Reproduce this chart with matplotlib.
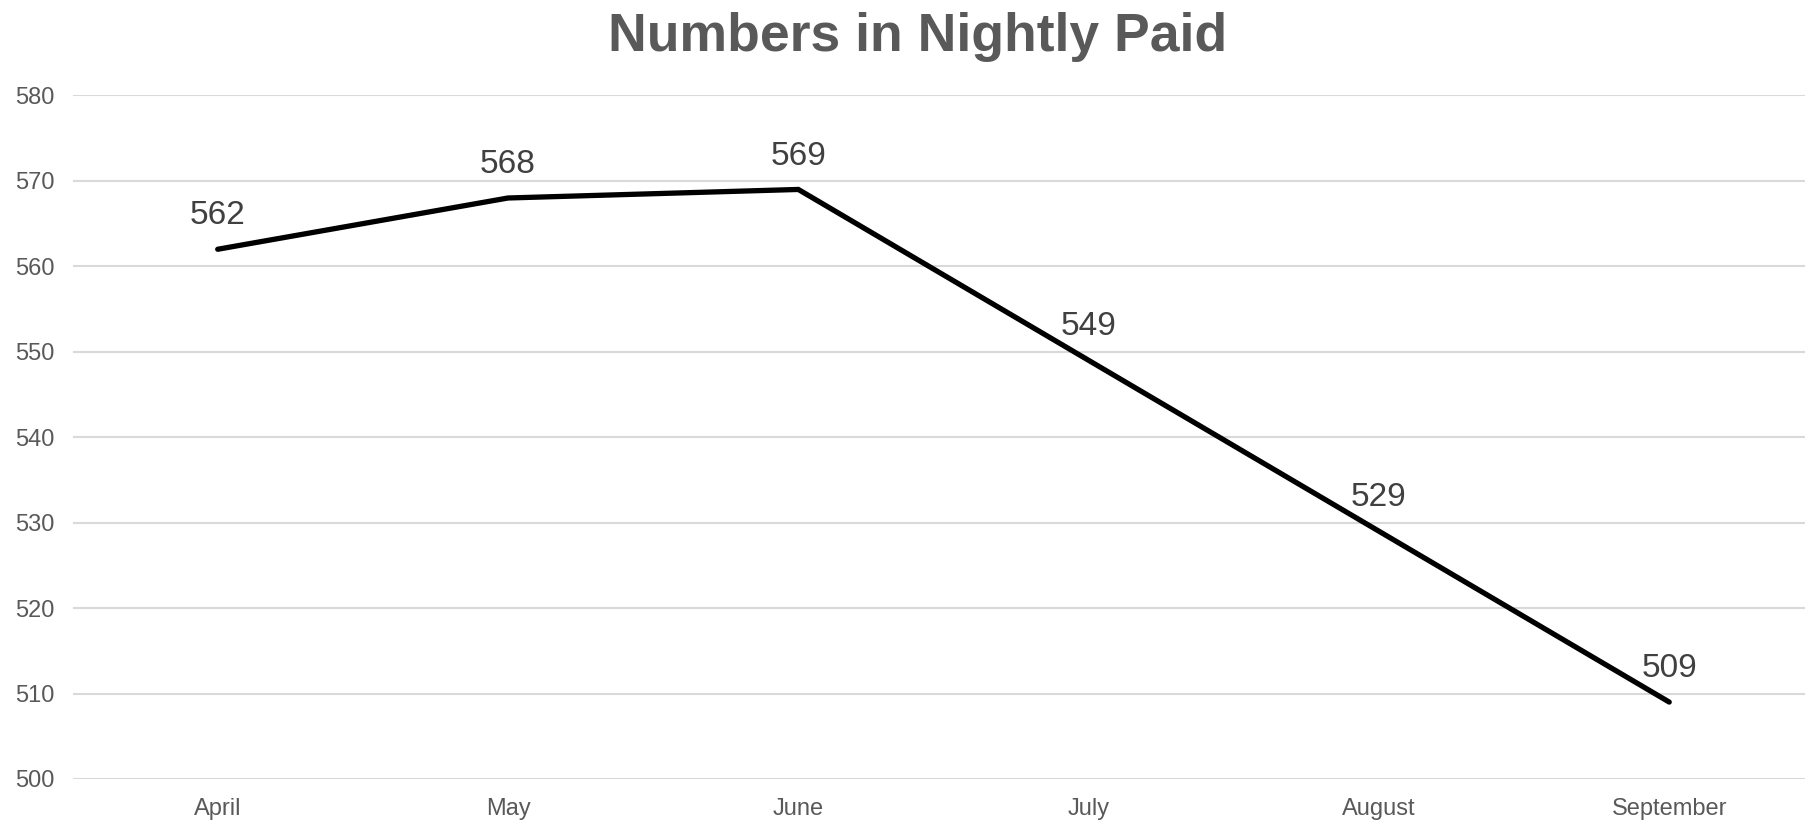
import matplotlib
matplotlib.use("Agg")
from matplotlib import pyplot as plt

months = ["April", "May", "June", "July", "August", "September"]
nightly_paid = [562, 568, 569, 549, 529, 509]
y_ticks = [500, 510, 520, 530, 540, 550, 560, 570, 580]

plt.rcParams['font.family'] = ['Liberation Sans', 'DejaVu Sans']

fig = plt.figure(figsize=(18.05, 8.23), dpi=100)
ax = fig.add_axes([0.0402, 0.0535, 0.965, 0.8305])

x = list(range(len(months)))
ax.plot(x, nightly_paid, color='black', linewidth=3.8, solid_capstyle='round',
        solid_joinstyle='miter', zorder=3)

for xi, v in zip(x, nightly_paid):
    ax.annotate(str(v), (xi, v), xytext=(0, 24), textcoords='offset points',
                ha='center', va='center', fontsize=24, color='#404040')

ax.set_xlim(-0.5, len(months) - 0.5)
ax.set_ylim(500, 580)
ax.set_yticks(y_ticks)
ax.set_xticks(x)
ax.set_xticklabels(months)
ax.yaxis.grid(True, color='#d9d9d9', linewidth=1.5)
ax.set_axisbelow(True)
for s in ax.spines.values():
    s.set_visible(False)
ax.tick_params(axis='both', length=0, labelsize=17, labelcolor='#595959')
ax.tick_params(axis='y', pad=13)
ax.tick_params(axis='x', pad=14)

fig.text(0.5085, 0.955, "Numbers in Nightly Paid", ha='center', va='center',
         fontsize=38.5, fontweight='bold', color='#595959')

fig.savefig("out.png", dpi=100)
